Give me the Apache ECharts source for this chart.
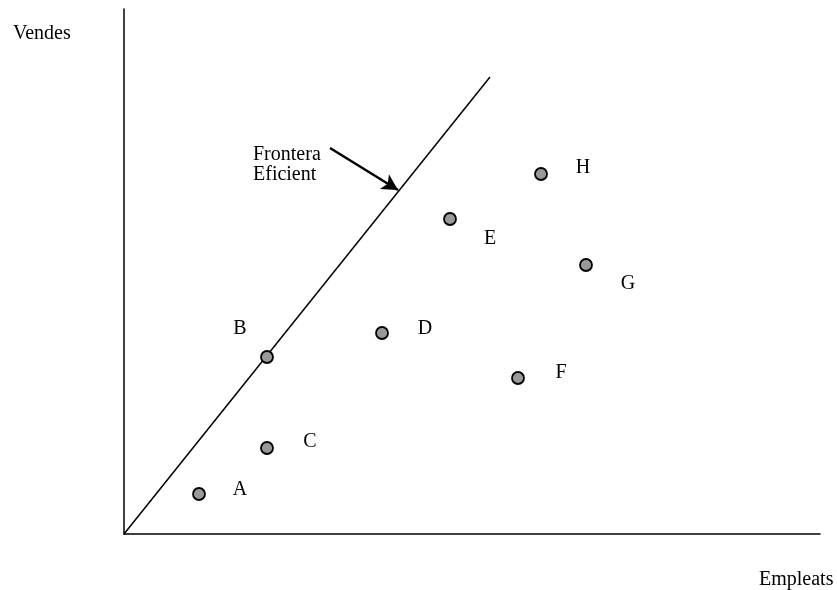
<!DOCTYPE html>
<html>
<head>
<meta charset="utf-8">
<script src="https://cdn.jsdelivr.net/npm/echarts@6/dist/echarts.min.js"></script>
<style>
  html, body { margin: 0; padding: 0; background: #fff; }
  #chart { width: 837px; height: 590px; }
</style>
</head>
<body>
<div id="chart"></div>
<script>
// Units on both axes (employees vs. sales)
const units = ['A', 'B', 'C', 'D', 'E', 'F', 'G', 'H'];
const empleats = [75, 143, 143, 258, 326, 394, 462, 417];
const vendes = [40, 177, 86, 201, 315, 156, 269, 360];

// Efficient frontier: from origin through B
const frontierX = [0, 366];
const frontierY = [0, 457];

// Annotation arrow pointing at the frontier
const arrowX = [206, 274];
const arrowY = [386, 344];

const xMax = 696;
const yMax = 525;

// Where each unit's letter sits relative to its point
const labelOffset = {
  A: [41, -4], B: [-27, -28], C: [43, -6], D: [43, -4],
  E: [40, 20], F: [43, -5], G: [42, 19], H: [42, -6]
};

const font = '"Liberation Serif", "Times New Roman", serif';
const fontSize = 20;

const points = units.map((u, i) => ({
  name: u,
  value: [empleats[i], vendes[i]],
  label: { offset: labelOffset[u] }
}));

const chart = echarts.init(document.getElementById('chart'));
chart.setOption({
  animation: false,
  backgroundColor: '#fff',
  grid: { left: 124, right: 17, top: 9, bottom: 56 },
  xAxis: {
    type: 'value', min: 0, max: xMax,
    axisLine: { show: true, onZero: false, lineStyle: { color: '#000', width: 1.5 } },
    axisTick: { show: false }, axisLabel: { show: false }, splitLine: { show: false }
  },
  yAxis: {
    type: 'value', min: 0, max: yMax,
    axisLine: { show: true, onZero: false, lineStyle: { color: '#000', width: 1.5 } },
    axisTick: { show: false }, axisLabel: { show: false }, splitLine: { show: false }
  },
  series: [
    {
      type: 'line',
      data: frontierX.map((x, i) => [x, frontierY[i]]),
      showSymbol: false,
      lineStyle: { color: '#000', width: 1.5 },
      z: 2
    },
    {
      type: 'line',
      data: arrowX.map((x, i) => [x, arrowY[i]]),
      showSymbol: false,
      lineStyle: { width: 0 },
      markLine: {
        silent: true,
        symbol: ['none', 'arrow'],
        symbolSize: [13, 16],
        label: { show: false },
        lineStyle: { color: '#000', width: 2.5, type: 'solid' },
        data: [[
          { coord: [arrowX[0], arrowY[0]] },
          { coord: [arrowX[1], arrowY[1]] }
        ]]
      },
      z: 3
    },
    {
      type: 'scatter',
      data: points,
      symbol: 'circle',
      symbolSize: 12,
      itemStyle: { color: '#999999', borderColor: '#000', borderWidth: 1.8, opacity: 1 },
      label: {
        show: true,
        position: 'inside',
        formatter: p => p.name,
        color: '#000',
        fontFamily: font,
        fontSize: fontSize
      },
      z: 4
    }
  ],
  graphic: [
    {
      type: 'text', left: 13, top: 24,
      style: { text: 'Vendes', fontFamily: font, fontSize: fontSize, fill: '#000' }
    },
    {
      type: 'text', left: 759, top: 570,
      style: { text: 'Empleats', fontFamily: font, fontSize: fontSize, fill: '#000' }
    },
    {
      type: 'text', left: 253, top: 145,
      style: { text: 'Frontera\nEficient', fontFamily: font, fontSize: fontSize, lineHeight: 20, fill: '#000' }
    }
  ]
});
</script>
</body>
</html>
